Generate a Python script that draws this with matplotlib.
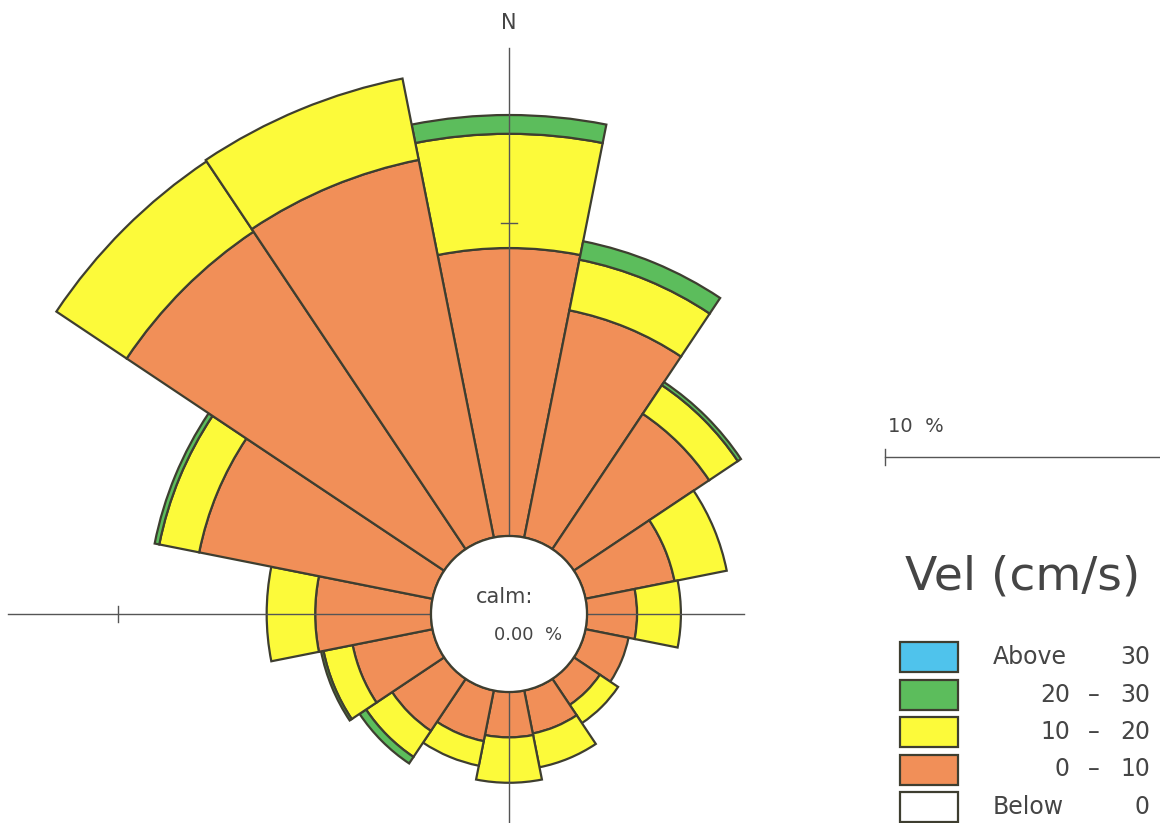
import numpy as np
import matplotlib.pyplot as plt
from matplotlib.patches import Wedge, Circle, Rectangle

plt.rcParams['font.family'] = 'DejaVu Sans'

# rose data (% of time per direction and speed class)
directions = ['N', 'NNE', 'NE', 'ENE', 'E', 'ESE', 'SE', 'SSE',
              'S', 'SSW', 'SW', 'WSW', 'W', 'WNW', 'NW', 'NNW']
v_0_10 = [9.2, 7.4, 5.2, 2.9, 1.6, 1.4, 1.0, 1.4, 1.45, 1.65, 2.0, 2.6, 3.7, 7.6, 12.2, 12.3]
v_10_20 = [3.65, 1.65, 1.1, 1.7, 1.4, 0.0, 0.7, 1.1, 1.45, 0.8, 1.0, 0.95, 1.55, 1.3, 2.7, 2.65]
v_20_30 = [0.6, 0.6, 0.12, 0.0, 0.0, 0.0, 0.0, 0.0, 0.0, 0.0, 0.25, 0.08, 0.0, 0.15, 0.0, 0.0]
v_above_30 = [0.0] * 16
calm_pct = 0.00

classes = ['Above', '20', '10', '0', 'Below']
class_hi = ['30', '30', '20', '10', '0']
class_colors = ['#4fc3ec', '#5cbd5c', '#fcfa3a', '#f18f58', '#ffffff']

# geometry (pixels)
cx, cy = 509, 614
r_calm = 78
scale = 31.3          # px per percent
edge = '#3e3e30'
txt = '#454545'

fig = plt.figure(figsize=(11.6, 8.23), dpi=100)
ax = fig.add_axes([0, 0, 1, 1])
ax.set_xlim(0, 1160)
ax.set_ylim(823, 0)
ax.set_aspect('equal')
ax.axis('off')

# axes lines
ax.plot([cx - r_calm - 13.5 * scale, cx + r_calm + 5.0 * scale], [cy, cy], color='#555555', lw=1, zorder=3)
ax.plot([cx, cx], [cy - r_calm - 15.6 * scale, 830], color='#555555', lw=1, zorder=3)
r10 = r_calm + 10 * scale
ax.plot([cx - 8, cx + 8], [cy - r10, cy - r10], color='#555555', lw=1, zorder=3)
ax.plot([cx - r10, cx - r10], [cy - 8, cy + 8], color='#555555', lw=1, zorder=3)
ax.text(cx, cy - r_calm - 16.4 * scale, 'N', ha='center', va='center', fontsize=15, color=txt)

# petals
bands = [v_0_10, v_10_20, v_20_30, v_above_30]
band_colors = class_colors[3::-1]
for i, d in enumerate(directions):
    comp = 22.5 * i
    t1, t2 = comp - 90 - 11.25, comp - 90 + 11.25
    r_in = r_calm
    for vals, col in zip(bands, band_colors):
        if vals[i] <= 0:
            continue
        r_out = r_in + vals[i] * scale
        ax.add_patch(Wedge((cx, cy), r_out, t1, t2, width=r_out - r_in,
                           facecolor=col, edgecolor=edge, lw=1.6, zorder=1))
        r_in = r_out

ax.add_patch(Circle((cx, cy), r_calm, facecolor='white', edgecolor=edge, lw=1.6, zorder=4))
ax.text(cx - 4, cy - 17, 'calm:', ha='center', va='center', fontsize=15, color=txt, zorder=5)
ax.text(cx + 19, cy + 21, '%.2f  %%' % calm_pct, ha='center', va='center', fontsize=13, color=txt, zorder=5)

# scale bar
ax.plot([885, 885 + 10 * scale], [457, 457], color='#555555', lw=1)
ax.plot([885, 885], [449, 465], color='#555555', lw=1)
ax.text(888, 426, '10  %', ha='left', va='center', fontsize=14, color=txt)

# legend
ax.text(1023, 577, 'Vel (cm/s)', ha='center', va='center', fontsize=34, color=txt)
for k, (lo, hi, col) in enumerate(zip(classes, class_hi, class_colors)):
    y = 657 + 37.5 * k
    ax.add_patch(Rectangle((900, y - 15), 58, 30, facecolor=col, edgecolor=edge, lw=1.6))
    if lo in ('Above', 'Below'):
        ax.text(993, y, lo, ha='left', va='center', fontsize=17, color=txt)
    else:
        ax.text(1070, y, lo, ha='right', va='center', fontsize=17, color=txt)
        ax.text(1094, y, '\u2013', ha='center', va='center', fontsize=17, color=txt)
    ax.text(1150, y, hi, ha='right', va='center', fontsize=17, color=txt)

fig.savefig('out.png', dpi=100)
